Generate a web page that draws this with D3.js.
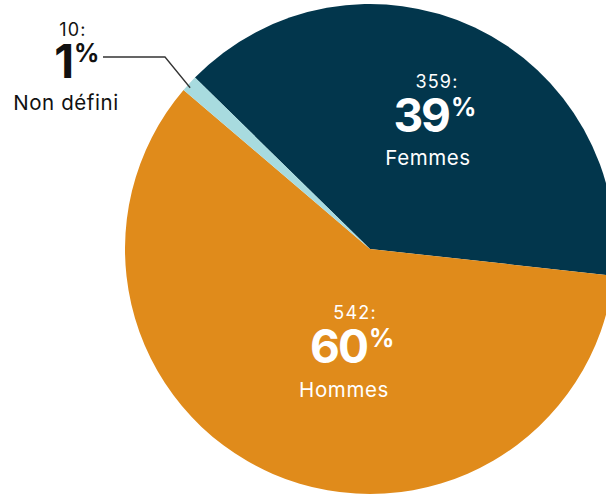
<!DOCTYPE html>
<html><head><meta charset="utf-8">
<script src="https://cdn.jsdelivr.net/npm/d3@7"></script>
<style>
html,body{margin:0;padding:0;background:#fff;}
svg{display:block;}
text{font-family:"Inter","Open Sans",sans-serif;}
</style></head>
<body>
<svg id="c" width="606" height="495"></svg>
<script>
const categories = ["Femmes", "Hommes", "Non défini"];
const counts = [359, 542, 10];
const percents = [39, 60, 1];
const colors = ["#02364c", "#e08b1b", "#a8dbdf"];

const cx = 370, cy = 249, R = 245;
const startDeg = -45.6;

const svg = d3.select("#c");
const g = svg.append("g").attr("transform", `translate(${cx},${cy})`);

const data = categories.map((c, i) => ({cat: c, n: counts[i], p: percents[i], col: colors[i]}));
const pie = d3.pie().value(d => d.n).sort(null)
  .startAngle(startDeg * Math.PI / 180)
  .endAngle(startDeg * Math.PI / 180 + 2 * Math.PI);
const arcs = pie(data);
const arc = d3.arc().innerRadius(0).outerRadius(R);

g.selectAll("path").data(arcs).enter().append("path")
  .attr("d", arc).attr("fill", d => d.data.col);

// label layout: anchor = count-line centre/baseline, relative to pie centre
const layout = {
  "Femmes":     {x: 67,   y: -161, numDy: 44, nameDx: -9,  nameDy: 77, col: "#fff"},
  "Hommes":     {x: -15,  y: 70,   numDy: 44, nameDx: -11, nameDy: 78, col: "#fff"},
  "Non défini": {x: -297, y: -213, numDy: 42, nameDx: -7,  nameDy: 74, col: "#111"}
};

arcs.forEach(a => {
  const L = layout[a.data.cat];
  const lg = g.append("g").attr("transform", `translate(${L.x},${L.y})`);
  lg.append("text").attr("x", 0).attr("y", 0).attr("text-anchor", "middle")
    .attr("font-size", 18).attr("fill", L.col).attr("letter-spacing", 1.2)
    .text(a.data.n + ":");
  const nx = a.data.cat === "Non défini" ? -1 : 12;
  lg.append("text").attr("x", nx).attr("y", L.numDy)
    .attr("text-anchor", "end").attr("font-size", 46).attr("font-weight", 700)
    .attr("fill", L.col).attr("letter-spacing", -2).text(a.data.p);
  lg.append("text").attr("x", nx + 2).attr("y", L.numDy - 16)
    .attr("text-anchor", "start").attr("font-size", 25).attr("font-weight", 700)
    .attr("fill", L.col).text("%");
  lg.append("text").attr("x", L.nameDx).attr("y", L.nameDy).attr("text-anchor", "middle")
    .attr("font-size", 20.5).attr("letter-spacing", 0.6).attr("fill", L.col).text(a.data.cat);
});

// leader line for the small slice
const small = arcs[2];
const mid = (small.startAngle + small.endAngle) / 2;
const px = R * Math.sin(mid), py = -R * Math.cos(mid);
g.append("polyline")
  .attr("points", [[-267, -192], [-205, -192], [px + 1, py + 4]].map(p => p.join(",")).join(" "))
  .attr("fill", "none").attr("stroke", "#333").attr("stroke-width", 1.3);
</script>
</body></html>
